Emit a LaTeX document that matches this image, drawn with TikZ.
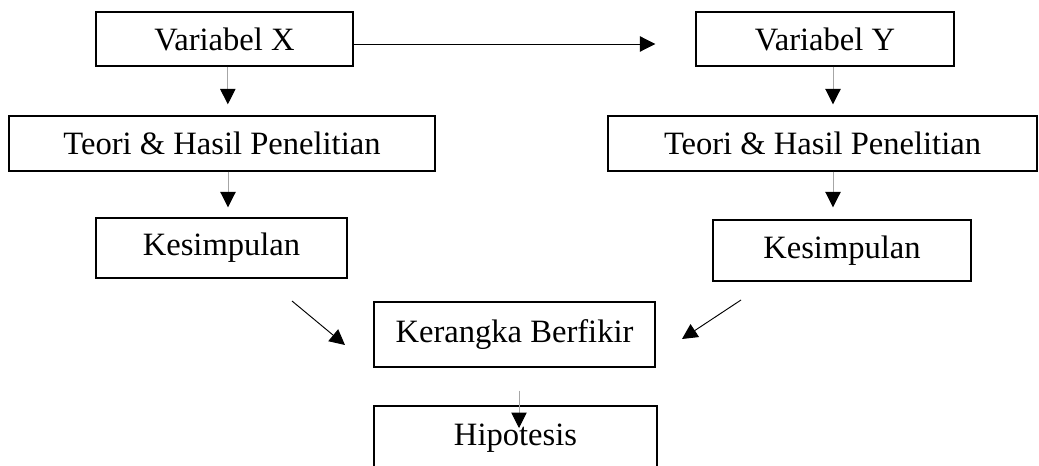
\documentclass[tikz,border=0pt]{standalone}
\usepackage{fontspec}
\setmainfont{Liberation Serif}
\usetikzlibrary{arrows.meta}

\tikzset{
	kotak/.style={draw, line width=1.2pt, inner sep=0pt, font=\fontsize{27.8}{33}\selectfont},
	panah/.style={line width=0.8pt, -{Triangle[length=0.46cm, width=0.46cm, black]}},
	panahabu/.style={panah, draw=gray!70}
}

\begin{document}
\begin{tikzpicture}
					\clip (0,0) rectangle (31.17,-13.98);
					\fill[white] (0,0) rectangle (31.17,-13.98);
					
					\coordinate (VX) at (6.735,-1.17);
					\coordinate (TX) at (6.66,-4.305);
					\coordinate (KX) at (6.645,-7.44);
					\coordinate (VY) at (24.75,-1.17);
					\coordinate (TY) at (24.675,-4.305);
					\coordinate (KY) at (25.26,-7.515);
					\coordinate (KB) at (15.435,-10.035);
					\coordinate (H) at (15.465,-13.155);
					
					\node[kotak, minimum width=7.71cm, minimum height=1.62cm] (vx) at (VX) {Variabel X};
					\node[kotak, minimum width=12.78cm, minimum height=1.65cm] (tx) at (TX) {Teori \& Hasil Penelitian};
					\node[kotak, minimum width=7.53cm, minimum height=1.8cm] (kx) at (KX) {Kesimpulan};
					\node[kotak, minimum width=7.74cm, minimum height=1.62cm] (vy) at (VY) {Variabel Y};
					\node[kotak, minimum width=12.87cm, minimum height=1.65cm] (ty) at (TY) {Teori \& Hasil Penelitian};
					\node[kotak, minimum width=7.74cm, minimum height=1.83cm] (ky) at (KY) {Kesimpulan};
					\node[kotak, minimum width=8.43cm, minimum height=1.95cm] (kb) at (KB) {Kerangka Berfikir};
					\node[kotak, minimum width=8.49cm, minimum height=1.95cm] (h) at (H) {Hipotesis};
					
					% panah kiri
					\draw[panahabu, shorten >=0.33cm] ([xshift=0.1cm]vx.south) -- ([xshift=0.1cm]vx.south |- tx.north);
					\draw[panahabu, shorten >=0.3cm] ([xshift=0.18cm]tx.south) -- ([xshift=0.18cm]tx.south |- kx.north);
					
					% panah kanan
					\draw[panahabu, shorten >=0.33cm] ([xshift=0.24cm]vy.south) -- ([xshift=0.24cm]vy.south |- ty.north);
					\draw[panahabu, shorten >=0.36cm] ([xshift=0.315cm]ty.south) -- ([xshift=0.315cm]ty.south |- ky.north);
					
					% X ke Y
					\draw[panah, shorten >=1.2cm] ([yshift=-0.15cm]vx.east) -- ([yshift=-0.15cm]vy.west);
					
					% ke kerangka berfikir
					\coordinate (a1) at (8.76,-9.03);
					\coordinate (a2) at (10.35,-10.35);
					\coordinate (b1) at (22.23,-9.0);
					\coordinate (b2) at (20.46,-10.17);
					\draw[panah] (a1) -- (a2);
					\draw[panah] (b1) -- (b2);
					
					% ke hipotesis
					\coordinate (c1) at ([xshift=0.135cm, yshift=-0.69cm]kb.south);
					\draw[panahabu] (c1) -- (c1 |- 0,-12.84);
				\end{tikzpicture}
\end{document}
